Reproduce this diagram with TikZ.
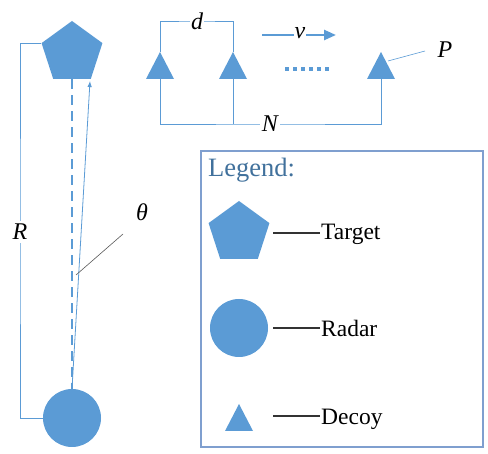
\documentclass[tikz,border=0pt]{standalone}
\usepackage{fontspec}
\setmainfont{Liberation Serif}
\usetikzlibrary{shapes.geometric,arrows.meta}
\definecolor{blu}{HTML}{5B9BD5}
\definecolor{legc}{HTML}{41719C}
\definecolor{boxc}{HTML}{7F9FCF}
\tikzset{
  target/.style={regular polygon, regular polygon sides=5, minimum size=64pt, inner sep=0pt, fill=blu},
  radar/.style={circle, minimum size=58pt, inner sep=0pt, fill=blu},
  decoy/.pic={\fill[blu] (-14,0) -- (0,-27) -- (14,0) -- cycle;},
  thinblue/.style={draw=blu, line width=0.9pt},
  mathlbl/.style={font=\fontsize{24}{28}\selectfont\itshape, inner sep=1.5pt},
  legtxt/.style={font=\fontsize{23.5}{28}\selectfont, anchor=base west, inner sep=1pt},
  legline/.style={draw=black!80, line width=1.1pt},
}
\begin{document}
\begin{tikzpicture}[x=1pt,y=-1pt]
\useasboundingbox (0,0) rectangle (488,454);
% main target and radar
\node[target] (pent) at (72,53) {};
\node[radar] (radar) at (72,418) {};
% R bracket
\coordinate (Rc) at (20,232);
\draw[thinblue] (pent.corner 2) -| (Rc) |- (radar.west);
\node[mathlbl, fill=white, inner sep=3pt] (R) at (Rc) {R};
% dashed line of sight
\draw[blu, line width=1.5pt, dash pattern=on 10pt off 6pt] (pent.south) -- (radar.north);
% actual direction
\coordinate (tip) at (90,81);
\draw[blu, line width=0.8pt, -{Latex[length=6pt,width=4.5pt]}] (radar.north) -- (tip);
% theta
\node[mathlbl] (th) at (142,212) {θ};
\coordinate (th1) at (123,234);
\coordinate (th2) at (76,275);
\draw[black!65, line width=0.6pt] (th1) -- (th2);
% decoys
\pic at (160,79) {decoy};
\pic at (233,79) {decoy};
\pic at (381,79) {decoy};
\coordinate (d1a) at (160,52); \coordinate (d1b) at (160,79);
\coordinate (d2a) at (233,52); \coordinate (d2b) at (233,79);
\coordinate (d3a) at (381,52); \coordinate (d3b) at (381,79);
% d bracket
\coordinate (dc) at (197,21);
\draw[thinblue] (d1a) |- (dc) -| (d2a);
\node[mathlbl, fill=white, inner sep=1pt] (dl) at (dc) {d};
% N bracket
\coordinate (Nc) at (270,124);
\draw[thinblue] (d1b) |- (Nc) -| (d3b);
\draw[thinblue] (d2b) -- (d2b |- Nc);
\node[mathlbl, fill=white, inner sep=2pt] (Nl) at (Nc) {N};
% velocity
\coordinate (vs) at (262,35);
\coordinate (ve) at (336,35);
\draw[blu, line width=2.5pt, -{Triangle[length=12pt,width=10pt]}] (vs) -- (ve);
\node[mathlbl, fill=white, inner sep=1pt] (vl) at (300,33) {v};
% dots
\coordinate (ds) at (285,69);
\coordinate (de) at (329,69);
\draw[blu, line width=4pt, dash pattern=on 4pt off 4pt] (ds) -- (de);
% P
\node[mathlbl] (Pl) at (445,50) {P};
\coordinate (p1) at (388,61);
\coordinate (p2) at (425,51);
\draw[blu, line width=0.6pt] (p1) -- (p2);
% legend
\draw[boxc, line width=1.2pt] (201,151) rectangle (483,447);
\node[font=\fontsize{26.5}{30}\selectfont, text=legc, anchor=base west, inner sep=0pt] (leg) at (208,177) {Legend:};
\node[target] (lt) at (239,233) {};
\node[legtxt] (ltt) at (320,240) {Target};
\draw[legline] ([xshift=7pt]lt.east) -- (lt.east -| ltt.west);
\node[radar] (lr) at (239,328) {};
\node[legtxt] (lrt) at (320,337) {Radar};
\draw[legline] ([xshift=5pt]lr.east) -- (lr.east -| lrt.west);
\pic at (239,431) {decoy};
\coordinate (ld) at (239,416);
\node[legtxt] (ldt) at (320,425) {Decoy};
\draw[legline] ([xshift=34pt]ld) -- (ld -| ldt.west);
\end{tikzpicture}
\end{document}
